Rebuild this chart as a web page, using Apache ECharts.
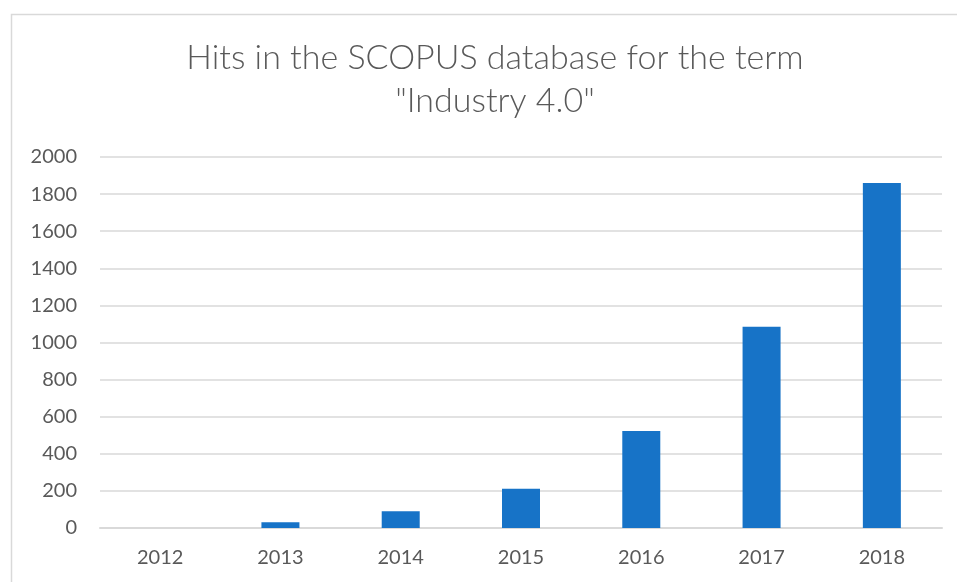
<!DOCTYPE html>
<html>
<head>
<meta charset="utf-8">
<script src="https://cdn.jsdelivr.net/npm/echarts@6/dist/echarts.min.js"></script>
<style>
  html, body { margin: 0; padding: 0; background: #fff; }
  #chart { width: 957px; height: 582px; }
</style>
</head>
<body>
<div id="chart"></div>
<script>
// years on the x axis and number of hits per year
const years = ['2012', '2013', '2014', '2015', '2016', '2017', '2018'];
const hits = [0, 31, 90, 211, 523, 1085, 1860];

const fontStack = 'Lato, "Open Sans", "Noto Sans", sans-serif';

const chart = echarts.init(document.getElementById('chart'));
chart.setOption({
  backgroundColor: '#ffffff',
  animation: false,
  title: {
    text: 'Hits in the SCOPUS database for the term\n"Industry 4.0"',
    left: 490,
    top: 32,
    textAlign: 'center',
    textStyle: {
      color: '#595959',
      fontFamily: fontStack,
      fontSize: 34,
      fontWeight: 300,
      lineHeight: 43
    }
  },
  graphic: [{
    type: 'rect',
    shape: { x: 11.5, y: 14.5, width: 960, height: 600 },
    style: { fill: 'none', stroke: '#d9d9d9', lineWidth: 1.5 },
    silent: true
  }],
  grid: { left: 100, right: 15, top: 157, bottom: 54 },
  xAxis: {
    type: 'category',
    data: years,
    axisLine: { show: true, lineStyle: { color: '#d9d9d9', width: 2 } },
    axisTick: { show: false },
    axisLabel: { color: '#595959', fontFamily: fontStack, fontSize: 20, margin: 20 }
  },
  yAxis: {
    type: 'value',
    min: 0,
    max: 2000,
    interval: 200,
    axisLine: { show: false },
    axisTick: { show: false },
    axisLabel: {
      color: '#595959',
      fontFamily: fontStack,
      fontSize: 20,
      margin: 23,
      formatter: (v) => String(v)
    },
    splitLine: { lineStyle: { color: '#d9d9d9', width: 1.5 } }
  },
  series: [{
    type: 'bar',
    data: hits,
    barWidth: 38,
    itemStyle: { color: '#1773c7' }
  }]
});
</script>
</body>
</html>
